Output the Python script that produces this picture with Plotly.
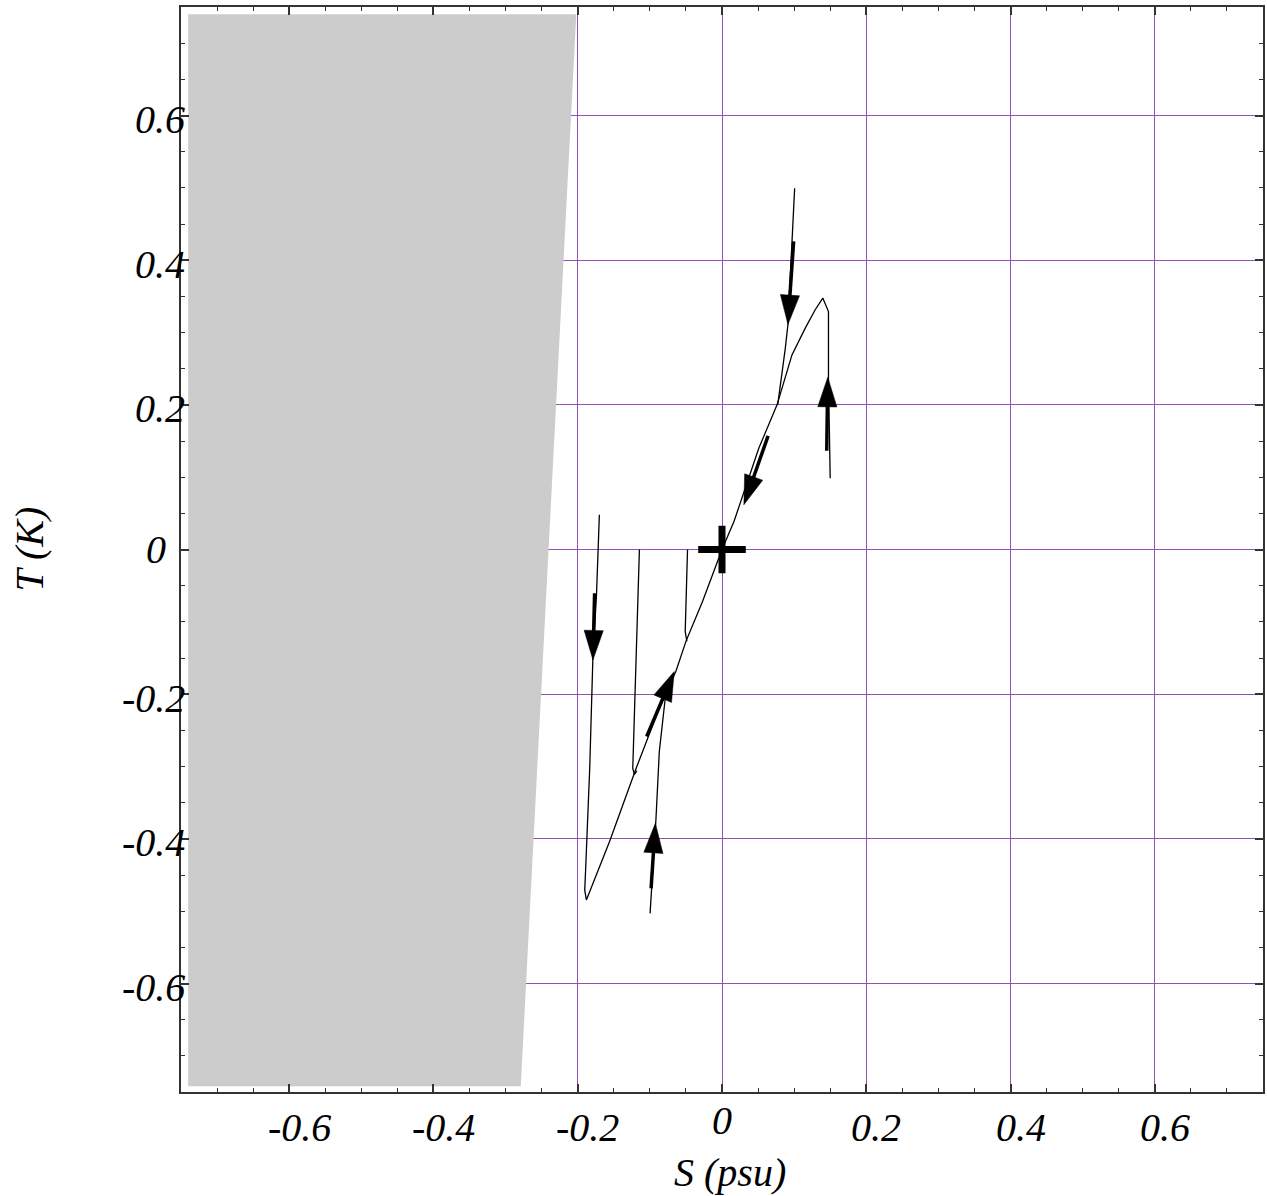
import plotly.graph_objects as go

# ---------------- data ----------------
# shaded (excluded) region
region_S = [-0.740, -0.279, -0.202, -0.740]
region_T = [-0.742, -0.742, 0.740, 0.740]

# trajectories in (S, T) space
trajA_S = [-0.170, -0.174, -0.179, -0.1834, -0.189, -0.1903, -0.188, -0.156, -0.119, -0.087, -0.064, -0.050, -0.027, 0.0]
trajA_T = [0.048, -0.063, -0.150, -0.3025, -0.441, -0.471, -0.4845, -0.404, -0.3025, -0.2195, -0.1687, -0.127, -0.072, 0.0]
trajB_S = [0.150, 0.1476, 0.1476, 0.1397, 0.1292, 0.1154, 0.097, 0.0763, 0.051, 0.0303, 0.0166, 0.0]
trajB_T = [0.0986, 0.237, 0.329, 0.3476, 0.3315, 0.306, 0.269, 0.200, 0.140, 0.080, 0.0387, 0.0]
trajC_S = [0.1007, 0.097, 0.0914, 0.0878, 0.0832, 0.0772]
trajC_T = [0.4993, 0.426, 0.311, 0.2785, 0.246, 0.200]
trajD_S = [-0.0997, -0.0915, -0.0869, -0.0823, -0.0786]
trajD_T = [-0.503, -0.3716, -0.279, -0.2333, -0.205]
trajE_S = [-0.1145, -0.119, -0.1237, -0.1214, -0.118]
trajE_T = [0.0, -0.164, -0.3025, -0.311, -0.306]
trajF_S = [-0.0478, -0.051, -0.0487]
trajF_T = [0.0, -0.1134, -0.127]

# direction arrows (tail -> tip)
arrow_tail_S = [0.0993, 0.1452, 0.0639, -0.1766, -0.1044, -0.0983]
arrow_tail_T = [0.426, 0.1365, 0.157, -0.0604, -0.2586, -0.4685]
arrow_tip_S = [0.0914, 0.1466, 0.0303, -0.1789, -0.0662, -0.0924]
arrow_tip_T = [0.311, 0.238, 0.0618, -0.1526, -0.1687, -0.3786]

# equilibrium point
eq_S = [0.0]
eq_T = [0.0]

# tick values / labels
tick_vals = [-0.6, -0.4, -0.2, 0.0, 0.2, 0.4, 0.6]
tick_text = ["-0.6", "-0.4", "-0.2", "0", "0.2", "0.4", "0.6"]

# ---------------- figure ----------------
fig = go.Figure()

fig.add_trace(go.Scatter(x=region_S, y=region_T, fill="toself", fillcolor="#cccccc",
                         mode="lines", line=dict(width=0, color="#cccccc"),
                         hoverinfo="skip", showlegend=False))

for xs, ys in [(trajA_S, trajA_T), (trajB_S, trajB_T), (trajC_S, trajC_T),
               (trajD_S, trajD_T), (trajE_S, trajE_T), (trajF_S, trajF_T)]:
    fig.add_trace(go.Scatter(x=xs, y=ys, mode="lines",
                             line=dict(color="black", width=1.3),
                             showlegend=False, hoverinfo="skip"))

for ts, tt, ps, pt in zip(arrow_tail_S, arrow_tail_T, arrow_tip_S, arrow_tip_T):
    fig.add_trace(go.Scatter(x=[ts, ps], y=[tt, pt], mode="lines+markers",
                             line=dict(color="#000000", width=3.5),
                             marker=dict(symbol="arrow", size=[0, 31], angleref="previous",
                                         color="#000000", opacity=1,
                                         line=dict(width=0.5, color="#000000")),
                             opacity=1,
                             showlegend=False, hoverinfo="skip"))

fig.add_trace(go.Scatter(x=eq_S, y=eq_T, mode="markers",
                         marker=dict(symbol="cross-thin", size=34, opacity=1,
                                     line=dict(color="#000000", width=7)),
                         showlegend=False, hoverinfo="skip"))

axis_common = dict(
    range=[-0.75, 0.75], tickmode="array", tickvals=tick_vals, showticklabels=False,
    ticks="inside", ticklen=8, tickwidth=1.5, tickcolor="#333",
    showline=True, linecolor="#333", linewidth=2, mirror="ticks",
    showgrid=True, gridcolor="#9050b4", gridwidth=1, zeroline=False,
    minor=dict(dtick=0.05, tick0=0, ticks="inside", ticklen=4, tickwidth=1.2,
               tickcolor="#333", showgrid=False),
)
fig.update_xaxes(**axis_common)
fig.update_yaxes(**axis_common)

font = dict(family="Liberation Serif", size=40, color="black", style="italic")
ann = []
for v, t in zip(tick_vals, tick_text):
    if v == 0:
        ann.append(dict(x=v, y=0, xref="x", yref="paper", text=t, showarrow=False,
                        xanchor="center", yanchor="middle", yshift=-28, font=font))
    else:
        ann.append(dict(x=v, y=0, xref="x", yref="paper", text=t, showarrow=False,
                        xanchor="center", yanchor="middle", xshift=10, yshift=-35, font=font))
for v, t in zip(tick_vals, tick_text):
    if v == 0:
        ann.append(dict(x=0, y=v, xref="paper", yref="y", text=t, showarrow=False,
                        xanchor="center", yanchor="middle", xshift=-25, font=font))
    else:
        ann.append(dict(x=0, y=v, xref="paper", yref="y", text=t, showarrow=False,
                        xanchor="right", yanchor="middle", xshift=6, yshift=-4, font=font))
ann.append(dict(x=0, y=0, xref="x", yref="paper", text="S (psu)", showarrow=False,
                xanchor="center", yanchor="middle", xshift=8, yshift=-80, font=font))
ann.append(dict(x=0, y=0.5, xref="paper", yref="paper", text="T (K)", showarrow=False,
                textangle=-90, xanchor="center", yanchor="middle", xshift=-152, font=font))

fig.update_layout(
    width=1267, height=1196,
    margin=dict(l=181, r=2, t=7, b=104),
    paper_bgcolor="white", plot_bgcolor="white",
    showlegend=False, annotations=ann,
)

fig.write_html("out.html")
